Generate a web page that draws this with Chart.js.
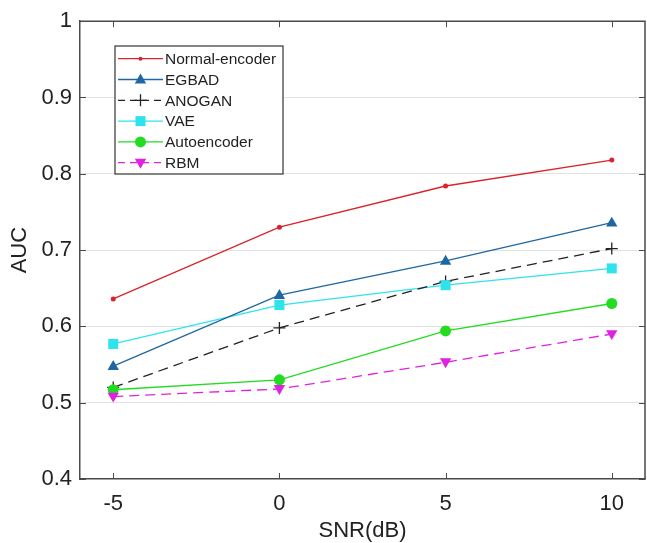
<!DOCTYPE html>
<html>
<head>
<meta charset="utf-8">
<script src="https://cdn.jsdelivr.net/npm/chart.js@4/dist/chart.umd.min.js"></script>
<style>
  html, body { margin: 0; padding: 0; background: #fff; overflow: hidden; }
  #wrap { width: 647px; height: 543px; }
</style>
</head>
<body>
<div id="wrap"><canvas id="myChart" width="647" height="543"></canvas></div>
<script>
// data
const snr = [-5, 0, 5, 10];
const normalEncoder = [0.636, 0.730, 0.784, 0.818];
const egbad = [0.548, 0.641, 0.686, 0.736];
const anogan = [0.520, 0.598, 0.659, 0.702];
const vae = [0.577, 0.628, 0.654, 0.676];
const autoencoder = [0.517, 0.530, 0.594, 0.630];
const rbm = [0.508, 0.518, 0.553, 0.590];
const names = ['Normal-encoder', 'EGBAD', 'ANOGAN', 'VAE', 'Autoencoder', 'RBM'];
const xTicks = [-5, 0, 5, 10];
const yTicks = [0.4, 0.5, 0.6, 0.7, 0.8, 0.9, 1];

const FONT = '"Liberation Sans", Arial, sans-serif';

function pts(vals) {
    return snr.map((x, i) => ({x: x, y: vals[i]}));
}

const styles = [
    {color: '#d8242b', marker: 'dot', r: 2.5, dash: []},
    {color: '#1f67a3', marker: 'tri', r: 6, dash: []},
    {color: '#222222', marker: 'cross', r: 6, dash: [10, 6]},
    {color: '#2fe3ec', marker: 'square', r: 5, dash: []},
    {color: '#22dc22', marker: 'circle', r: 5.5, dash: []},
    {color: '#e022e0', marker: 'tridown', r: 6, dash: [10, 6]}
];
const allVals = [normalEncoder, egbad, anogan, vae, autoencoder, rbm];

function drawMarker(ctx, type, x, y, r, color) {
    ctx.save();
    ctx.fillStyle = color;
    ctx.strokeStyle = color;
    ctx.setLineDash([]);
    ctx.beginPath();
    if (type === 'dot' || type === 'circle') {
        ctx.arc(x, y, r, 0, Math.PI * 2);
        ctx.fill();
    } else if (type === 'square') {
        ctx.fillRect(x - r, y - r, r * 2, r * 2);
    } else if (type === 'tri') {
        ctx.moveTo(x, y - r);
        ctx.lineTo(x + r * 0.95, y + r * 0.65);
        ctx.lineTo(x - r * 0.95, y + r * 0.65);
        ctx.closePath();
        ctx.fill();
    } else if (type === 'tridown') {
        ctx.moveTo(x, y + r);
        ctx.lineTo(x + r * 0.95, y - r * 0.65);
        ctx.lineTo(x - r * 0.95, y - r * 0.65);
        ctx.closePath();
        ctx.fill();
    } else if (type === 'cross') {
        ctx.lineWidth = 1.3;
        ctx.moveTo(x - r, y); ctx.lineTo(x + r, y);
        ctx.moveTo(x, y - r); ctx.lineTo(x, y + r);
        ctx.stroke();
    }
    ctx.restore();
}

// markers, box ticks and legend
const extras = {
    id: 'extras',
    afterDatasetsDraw(chart) {
        const ctx = chart.ctx;
        chart.data.datasets.forEach((ds, i) => {
            const meta = chart.getDatasetMeta(i);
            const st = styles[i];
            meta.data.forEach(p => drawMarker(ctx, st.marker, p.x, p.y, st.r, st.color));
        });
    },
    afterDraw(chart) {
        const ctx = chart.ctx;
        const a = chart.chartArea;
        const xs = chart.scales.x, ys = chart.scales.y;
        ctx.save();
        ctx.strokeStyle = '#4a4a4a';
        ctx.lineWidth = 1.5;
        ctx.beginPath();
        ctx.moveTo(a.left, a.top); ctx.lineTo(a.right, a.top); ctx.lineTo(a.right, a.bottom);
        ctx.stroke();
        ctx.lineWidth = 1;
        ctx.beginPath();
        xTicks.forEach(v => {
            const px = Math.round(xs.getPixelForValue(v)) + 0.5;
            ctx.moveTo(px, a.bottom); ctx.lineTo(px, a.bottom - 6);
            ctx.moveTo(px, a.top); ctx.lineTo(px, a.top + 6);
        });
        yTicks.forEach(v => {
            const py = Math.round(ys.getPixelForValue(v)) + 0.5;
            ctx.moveTo(a.left, py); ctx.lineTo(a.left + 6, py);
            ctx.moveTo(a.right, py); ctx.lineTo(a.right - 6, py);
        });
        ctx.stroke();

        // legend
        const bx = 115, by = 46, bw = 168, bh = 128;
        ctx.fillStyle = '#fff';
        ctx.fillRect(bx, by, bw, bh);
        ctx.strokeStyle = '#333';
        ctx.lineWidth = 1.2;
        ctx.strokeRect(bx, by, bw, bh);
        ctx.font = '15.5px ' + FONT;
        ctx.textBaseline = 'middle';
        chart.data.datasets.forEach((ds, i) => {
            const st = styles[i];
            const y = 58.7 + i * 20.8;
            ctx.strokeStyle = st.color;
            ctx.lineWidth = 1.3;
            ctx.setLineDash(st.dash.length ? [7, 5] : []);
            ctx.beginPath();
            ctx.moveTo(118, y); ctx.lineTo(163, y);
            ctx.stroke();
            ctx.setLineDash([]);
            drawMarker(ctx, st.marker, 140.5, y, st.marker === 'dot' ? 2 : st.r, st.color);
            ctx.fillStyle = '#222';
            ctx.fillText(ds.label, 165, y + 1);
        });
        ctx.restore();
    }
};

const chart = document.querySelector('#myChart').getContext('2d');
const myChart = new Chart(chart, {
    type: 'line',
    data: {
        datasets: names.map((n, i) => ({
            label: n,
            data: pts(allVals[i]),
            borderColor: styles[i].color,
            borderWidth: 1.3,
            borderDash: styles[i].dash,
            pointRadius: 0,
            fill: false,
            tension: 0
        }))
    },
    options: {
        responsive: false,
        animation: false,
        layout: {padding: {top: 20, right: 2, left: 0, bottom: 0}},
        plugins: {legend: {display: false}, tooltip: {enabled: false}},
        scales: {
            x: {
                type: 'linear',
                min: -6, max: 11,
                afterBuildTicks: s => { s.ticks = xTicks.map(v => ({value: v})); },
                afterFit: s => { s.height = 64; },
                grid: {drawOnChartArea: false, drawTicks: false},
                border: {display: true, color: '#4a4a4a', width: 1.5},
                ticks: {padding: 12, color: '#222', font: {family: FONT, size: 22}},
                title: {display: true, text: 'SNR(dB)', color: '#222',
                        font: {family: FONT, size: 22, lineHeight: 1.2}, padding: {top: 0, bottom: -1}}
            },
            y: {
                min: 0.4, max: 1,
                afterBuildTicks: s => { s.ticks = yTicks.map(v => ({value: v})); },
                afterFit: s => { s.width = 80; },
                grid: {
                    drawTicks: false,
                    color: c => (c.tick && (c.tick.value === 0.4 || c.tick.value === 1)) ? 'rgba(0,0,0,0)' : '#e2e2e2',
                    lineWidth: 1
                },
                border: {display: true, color: '#4a4a4a', width: 1.5},
                ticks: {
                    padding: 8, color: '#222', font: {family: FONT, size: 22},
                    callback: v => v === 1 ? '1' : v.toFixed(1)
                },
                title: {display: true, text: 'AUC', color: '#222',
                        font: {family: FONT, size: 22, lineHeight: 1.2}, padding: {top: 7, bottom: 0}}
            }
        }
    },
    plugins: [extras]
});
</script>
</body>
</html>
